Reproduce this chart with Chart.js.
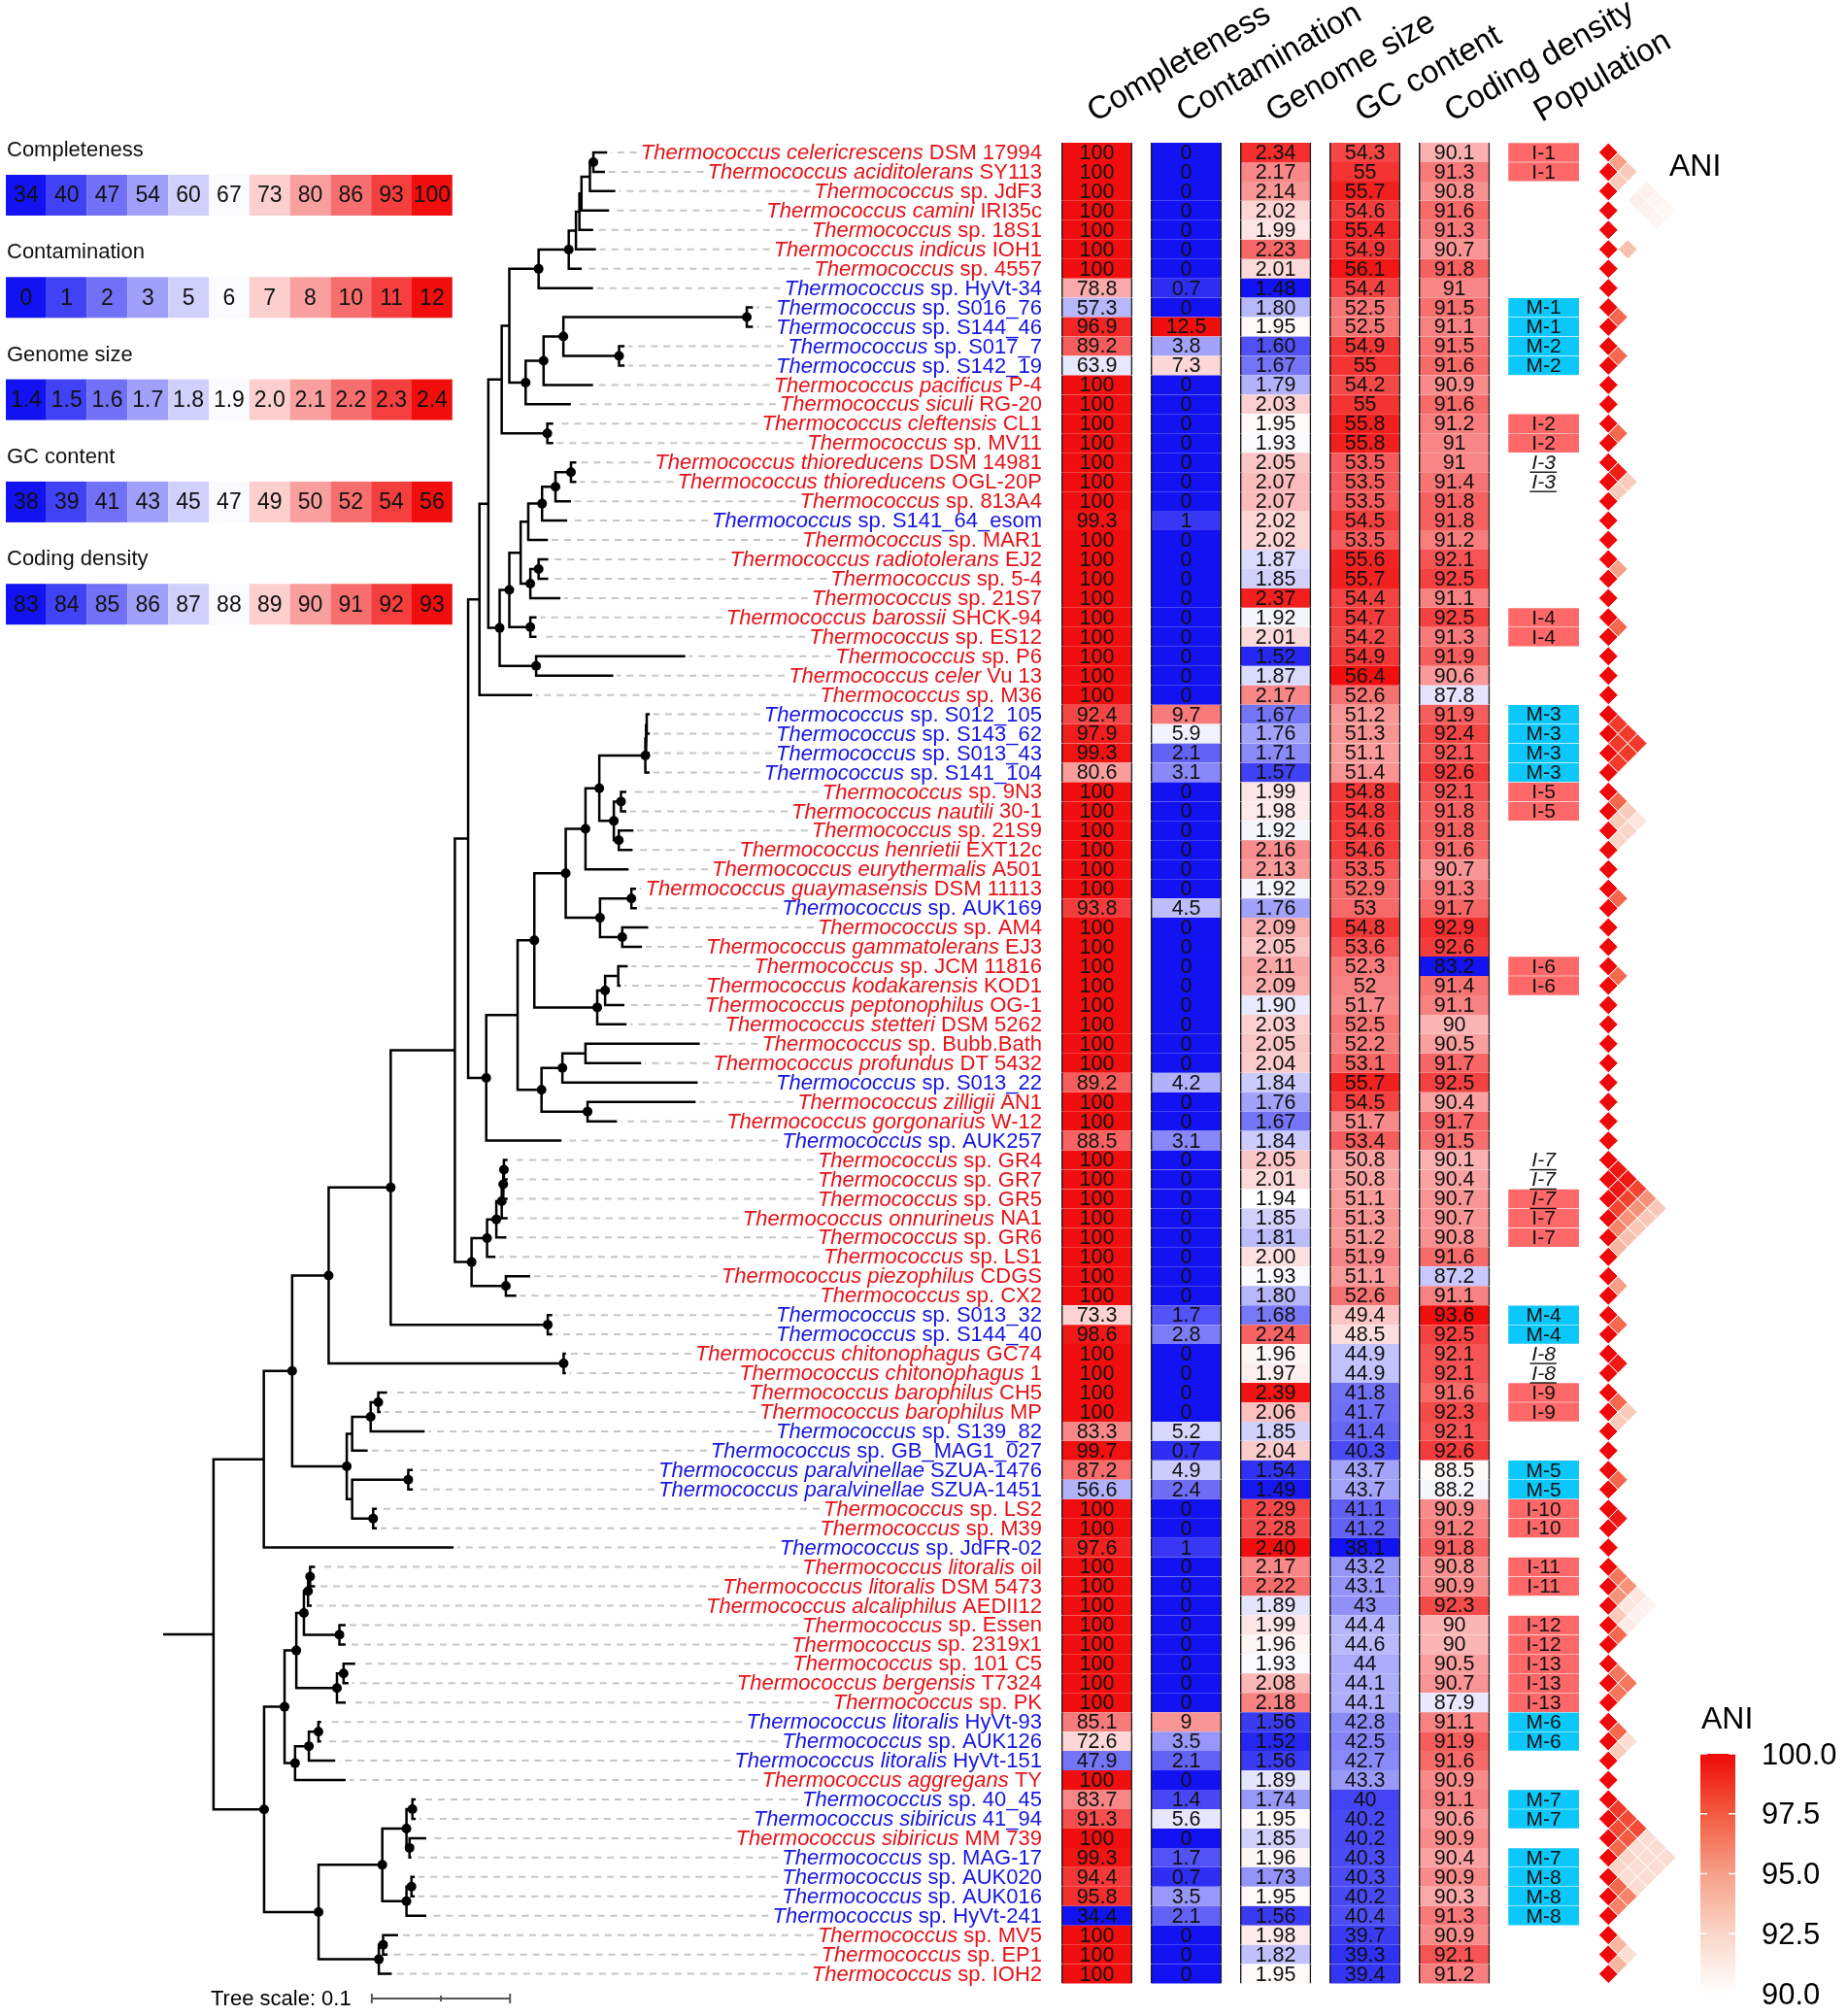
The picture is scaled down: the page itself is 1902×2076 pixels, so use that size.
<!DOCTYPE html>
<html>
<head>
<meta charset="utf-8">
<title>Thermococcus phylogeny with genome features</title>
<script src="https://cdn.jsdelivr.net/npm/chart.js@4.4.1/dist/chart.umd.min.js"></script>
<style>
  html, body { margin: 0; padding: 0; background: #fff; overflow: hidden; }
</style>
</head>
<body>
<canvas id="tree-heatmap" width="1902" height="2076"></canvas>
<script>
// ---- data ----
const taxa = [
  "Thermococcus celericrescens DSM 17994", "Thermococcus aciditolerans SY113", "Thermococcus sp. JdF3",
  "Thermococcus camini IRI35c", "Thermococcus sp. 18S1", "Thermococcus indicus IOH1", "Thermococcus sp. 4557",
  "Thermococcus sp. HyVt-34", "Thermococcus sp. S016_76", "Thermococcus sp. S144_46", "Thermococcus sp. S017_7",
  "Thermococcus sp. S142_19", "Thermococcus pacificus P-4", "Thermococcus siculi RG-20", "Thermococcus cleftensis CL1",
  "Thermococcus sp. MV11", "Thermococcus thioreducens DSM 14981", "Thermococcus thioreducens OGL-20P",
  "Thermococcus sp. 813A4", "Thermococcus sp. S141_64_esom", "Thermococcus sp. MAR1", "Thermococcus radiotolerans EJ2",
  "Thermococcus sp. 5-4", "Thermococcus sp. 21S7", "Thermococcus barossii SHCK-94", "Thermococcus sp. ES12",
  "Thermococcus sp. P6", "Thermococcus celer Vu 13", "Thermococcus sp. M36", "Thermococcus sp. S012_105",
  "Thermococcus sp. S143_62", "Thermococcus sp. S013_43", "Thermococcus sp. S141_104", "Thermococcus sp. 9N3",
  "Thermococcus nautili 30-1", "Thermococcus sp. 21S9", "Thermococcus henrietii EXT12c", "Thermococcus eurythermalis A501",
  "Thermococcus guaymasensis DSM 11113", "Thermococcus sp. AUK169", "Thermococcus sp. AM4", "Thermococcus gammatolerans EJ3",
  "Thermococcus sp. JCM 11816", "Thermococcus kodakarensis KOD1", "Thermococcus peptonophilus OG-1",
  "Thermococcus stetteri DSM 5262", "Thermococcus sp. Bubb.Bath", "Thermococcus profundus DT 5432",
  "Thermococcus sp. S013_22", "Thermococcus zilligii AN1", "Thermococcus gorgonarius W-12", "Thermococcus sp. AUK257",
  "Thermococcus sp. GR4", "Thermococcus sp. GR7", "Thermococcus sp. GR5", "Thermococcus onnurineus NA1",
  "Thermococcus sp. GR6", "Thermococcus sp. LS1", "Thermococcus piezophilus CDGS", "Thermococcus sp. CX2",
  "Thermococcus sp. S013_32", "Thermococcus sp. S144_40", "Thermococcus chitonophagus GC74", "Thermococcus chitonophagus 1",
  "Thermococcus barophilus CH5", "Thermococcus barophilus MP", "Thermococcus sp. S139_82", "Thermococcus sp. GB_MAG1_027",
  "Thermococcus paralvinellae SZUA-1476", "Thermococcus paralvinellae SZUA-1451", "Thermococcus sp. LS2",
  "Thermococcus sp. M39", "Thermococcus sp. JdFR-02", "Thermococcus litoralis oil", "Thermococcus litoralis DSM 5473",
  "Thermococcus alcaliphilus AEDII12", "Thermococcus sp. Essen", "Thermococcus sp. 2319x1", "Thermococcus sp. 101 C5",
  "Thermococcus bergensis T7324", "Thermococcus sp. PK", "Thermococcus litoralis HyVt-93", "Thermococcus sp. AUK126",
  "Thermococcus litoralis HyVt-151", "Thermococcus aggregans TY", "Thermococcus sp. 40_45", "Thermococcus sibiricus 41_94",
  "Thermococcus sibiricus MM 739", "Thermococcus sp. MAG-17", "Thermococcus sp. AUK020", "Thermococcus sp. AUK016",
  "Thermococcus sp. HyVt-241", "Thermococcus sp. MV5", "Thermococcus sp. EP1", "Thermococcus sp. IOH2"
];

// genomes recovered from metagenomes (blue labels)
const magRows = [7, 8, 9, 10, 11, 19, 29, 30, 31, 32, 39, 48, 51, 60, 61, 66, 67, 68, 69, 72, 81, 82, 83, 85, 86, 88, 89, 90, 91];

const completeness = [
  100, 100, 100, 100, 100, 100, 100, 78.8, 57.3, 96.9,
  89.2, 63.9, 100, 100, 100, 100, 100, 100, 100, 99.3,
  100, 100, 100, 100, 100, 100, 100, 100, 100, 92.4,
  97.9, 99.3, 80.6, 100, 100, 100, 100, 100, 100, 93.8,
  100, 100, 100, 100, 100, 100, 100, 100, 89.2, 100,
  100, 88.5, 100, 100, 100, 100, 100, 100, 100, 100,
  73.3, 98.6, 100, 100, 100, 100, 83.3, 99.7, 87.2, 56.6,
  100, 100, 97.6, 100, 100, 100, 100, 100, 100, 100,
  100, 85.1, 72.6, 47.9, 100, 83.7, 91.3, 100, 99.3, 94.4,
  95.8, 34.4, 100, 100, 100
];
const contamination = [
  0, 0, 0, 0, 0, 0, 0, 0.7, 0, 12.5,
  3.8, 7.3, 0, 0, 0, 0, 0, 0, 0, 1,
  0, 0, 0, 0, 0, 0, 0, 0, 0, 9.7,
  5.9, 2.1, 3.1, 0, 0, 0, 0, 0, 0, 4.5,
  0, 0, 0, 0, 0, 0, 0, 0, 4.2, 0,
  0, 3.1, 0, 0, 0, 0, 0, 0, 0, 0,
  1.7, 2.8, 0, 0, 0, 0, 5.2, 0.7, 4.9, 2.4,
  0, 0, 1, 0, 0, 0, 0, 0, 0, 0,
  0, 9, 3.5, 2.1, 0, 1.4, 5.6, 0, 1.7, 0.7,
  3.5, 2.1, 0, 0, 0
];
const genomeSize = [
  2.34, 2.17, 2.14, 2.02, 1.99, 2.23, 2.01, 1.48, 1.80, 1.95,
  1.60, 1.67, 1.79, 2.03, 1.95, 1.93, 2.05, 2.07, 2.07, 2.02,
  2.02, 1.87, 1.85, 2.37, 1.92, 2.01, 1.52, 1.87, 2.17, 1.67,
  1.76, 1.71, 1.57, 1.99, 1.98, 1.92, 2.16, 2.13, 1.92, 1.76,
  2.09, 2.05, 2.11, 2.09, 1.90, 2.03, 2.05, 2.04, 1.84, 1.76,
  1.67, 1.84, 2.05, 2.01, 1.94, 1.85, 1.81, 2.00, 1.93, 1.80,
  1.68, 2.24, 1.96, 1.97, 2.39, 2.06, 1.85, 2.04, 1.54, 1.49,
  2.29, 2.28, 2.40, 2.17, 2.22, 1.89, 1.99, 1.96, 1.93, 2.08,
  2.18, 1.56, 1.52, 1.56, 1.89, 1.74, 1.95, 1.85, 1.96, 1.73,
  1.95, 1.56, 1.98, 1.82, 1.95
];
const gcContent = [
  54.3, 55, 55.7, 54.6, 55.4, 54.9, 56.1, 54.4, 52.5, 52.5,
  54.9, 55, 54.2, 55, 55.8, 55.8, 53.5, 53.5, 53.5, 54.5,
  53.5, 55.6, 55.7, 54.4, 54.7, 54.2, 54.9, 56.4, 52.6, 51.2,
  51.3, 51.1, 51.4, 54.8, 54.8, 54.6, 54.6, 53.5, 52.9, 53,
  54.8, 53.6, 52.3, 52, 51.7, 52.5, 52.2, 53.1, 55.7, 54.5,
  51.7, 53.4, 50.8, 50.8, 51.1, 51.3, 51.2, 51.9, 51.1, 52.6,
  49.4, 48.5, 44.9, 44.9, 41.8, 41.7, 41.4, 40.3, 43.7, 43.7,
  41.1, 41.2, 38.1, 43.2, 43.1, 43, 44.4, 44.6, 44, 44.1,
  44.1, 42.8, 42.5, 42.7, 43.3, 40, 40.2, 40.2, 40.3, 40.3,
  40.2, 40.4, 39.7, 39.3, 39.4
];
const codingDensity = [
  90.1, 91.3, 90.8, 91.6, 91.3, 90.7, 91.8, 91, 91.5, 91.1,
  91.5, 91.6, 90.9, 91.6, 91.2, 91, 91, 91.4, 91.8, 91.8,
  91.2, 92.1, 92.5, 91.1, 92.5, 91.3, 91.9, 90.6, 87.8, 91.9,
  92.4, 92.1, 92.6, 92.1, 91.8, 91.8, 91.6, 90.7, 91.3, 91.7,
  92.9, 92.6, 83.2, 91.4, 91.1, 90, 90.5, 91.7, 92.5, 90.4,
  91.7, 91.5, 90.1, 90.4, 90.7, 90.7, 90.8, 91.6, 87.2, 91.1,
  93.6, 92.5, 92.1, 92.1, 91.6, 92.3, 92.1, 92.6, 88.5, 88.2,
  90.9, 91.2, 91.8, 90.8, 90.9, 92.3, 90, 90, 90.5, 90.7,
  87.9, 91.1, 91.9, 91.6, 90.9, 91.1, 90.6, 90.9, 90.4, 90.9,
  90.3, 91.3, 90.9, 92.1, 91.2
];
const columnNames = ["Completeness", "Contamination", "Genome size", "GC content", "Coding density", "Population"];

const population = [
  "I-1", "I-1", "", "", "", "", "", "",
  "M-1", "M-1", "M-2", "M-2", "", "", "I-2", "I-2",
  "I-3", "I-3", "", "", "", "", "", "",
  "I-4", "I-4", "", "", "", "M-3", "M-3", "M-3",
  "M-3", "I-5", "I-5", "", "", "", "", "",
  "", "", "I-6", "I-6", "", "", "", "",
  "", "", "", "", "I-7", "I-7", "I-7", "I-7",
  "I-7", "", "", "", "M-4", "M-4", "I-8", "I-8",
  "I-9", "I-9", "", "", "M-5", "M-5", "I-10", "I-10",
  "", "I-11", "I-11", "", "I-12", "I-12", "I-13", "I-13",
  "I-13", "M-6", "M-6", "", "", "M-7", "M-7", "",
  "M-7", "M-8", "M-8", "M-8", "", "", ""
];
const underlinedPopRows = [16, 17, 52, 53, 54, 62, 63];
const unboxedPopRows = [16, 17, 52, 53, 62, 63];

// pairwise ANI (%) between rows i and j, only pairs above 90 are shown
const aniPairs = [
  [0, 1, 95], [1, 2, 93], [0, 2, 93],
  [0, 4, 90.8], [0, 5, 90.7], [0, 6, 90.5], [1, 4, 91], [1, 5, 90.8], [1, 6, 90.6],
  [4, 6, 93.5], [8, 9, 97], [10, 11, 97], [14, 15, 97],
  [16, 17, 99.3], [17, 18, 93], [16, 18, 93], [21, 22, 95], [24, 25, 97],
  [29, 30, 98.5], [30, 31, 98.5], [31, 32, 98.5], [29, 31, 98.5], [30, 32, 98.5], [29, 32, 98.5],
  [33, 34, 97], [34, 35, 93], [33, 35, 93], [35, 36, 92.5], [34, 36, 92.5], [33, 36, 91.5],
  [38, 39, 97], [42, 43, 97],
  [52, 53, 99.6], [53, 54, 99.6], [52, 54, 99.6], [54, 55, 98.2], [53, 55, 98.2], [52, 55, 98.2],
  [55, 56, 96], [54, 56, 95.5], [53, 56, 95.5], [52, 56, 95.5],
  [56, 57, 94], [55, 57, 93.5], [54, 57, 93.2], [53, 57, 93.2], [52, 57, 93.2],
  [58, 59, 95], [60, 61, 97], [62, 63, 99.5],
  [64, 65, 97], [65, 66, 93], [64, 66, 93], [68, 69, 97], [70, 71, 99.5],
  [73, 74, 96.5], [74, 75, 95.5], [73, 75, 95.5], [75, 76, 93], [74, 76, 91.5], [73, 76, 91.5],
  [76, 77, 97], [75, 77, 91.2], [74, 77, 90.8], [73, 77, 90.8],
  [78, 79, 96.5], [79, 80, 96.5], [78, 80, 96.5],
  [81, 82, 97], [82, 83, 93], [81, 83, 92],
  [85, 86, 98.5], [86, 87, 98], [85, 87, 98], [87, 88, 97], [86, 88, 97.5], [85, 88, 98],
  [85, 89, 92], [85, 90, 92], [85, 91, 92], [86, 89, 92], [86, 90, 92], [86, 91, 92],
  [87, 89, 92.5], [87, 90, 92], [87, 91, 92], [88, 89, 92.5], [88, 90, 92], [88, 91, 92],
  [89, 90, 97], [90, 91, 96], [89, 91, 96],
  [92, 93, 94], [93, 94, 94], [92, 94, 92]
];
const aniTicks = [100, 97.5, 95, 92.5, 90];

// tree: [child, parent, branch length (substitutions/site)]; numbers are rows
const rootStem = 0.0355;
const treeEdges = [
  [0, "a1", 0.0091], [1, "a1", 0.0075], ["a1", "a2", 0.0025], [2, "a2", 0.0175],
  ["a2", "a3", 0.0061], [3, "a3", 0.0191], ["a3", "a4", 0.0015], [4, "a4", 0.0091],
  ["a4", "a5", 0.0025], [5, "a5", 0.0136], ["a5", "a6", 0.0052], [6, "a6", 0.0085],
  ["a6", "a7", 0.0218], [7, "a7", 0.0385], ["a7", "b1", 0.0212],
  [8, "c1", 0.0036], [9, "c1", 0.0036], [10, "c2", 0.0031], [11, "c2", 0.0031],
  ["c1", "c3", 0.1327], ["c2", "c3", 0.0403], ["c3", "c4", 0.0143], [12, "c4", 0.0349],
  ["c4", "c5", 0.0130], [13, "c5", 0.0318], ["c5", "b1", 0.0118], ["b1", "b2", 0.0055],
  [14, "d1", 0.0034], [15, "d1", 0.0034], ["d1", "b2", 0.0330], ["b2", "b3", 0.0097],
  [16, "e1", 0.0030], [17, "e1", 0.0030], ["e1", "e2", 0.0112], [18, "e2", 0.0103],
  ["e2", "e3", 0.0097], [19, "e3", 0.0173], ["e3", "e4", 0.0100], [20, "e4", 0.0134],
  [21, "f1", 0.0061], [22, "f1", 0.0061], ["f1", "f2", 0.0060], [23, "f2", 0.0209],
  ["e4", "e5", 0.0055], ["f2", "e5", 0.0070],
  [24, "g1", 0.0036], [25, "g1", 0.0036], ["e5", "e6", 0.0082], ["g1", "e6", 0.0152],
  [26, "h1", 0.1070], [27, "h1", 0.0549], ["e6", "e7", 0.0070], ["h1", "e7", 0.0264],
  ["e7", "b3", 0.0082], ["b3", "b4", 0.0064], [28, "b4", 0.0373], ["b4", "k1", 0.0082],
  [29, "m1", 0.0013], [30, "m1", 0.0013], ["m1", "m2", 0.0005], [31, "m2", 0.0017],
  ["m2", "m3", 0.0005], [32, "m3", 0.0022],
  [33, "p1", 0.0030], [34, "p1", 0.0030], [35, "p2", 0.0097], [36, "p2", 0.0091],
  ["p1", "p3", 0.0052], ["p2", "p3", 0.0036], ["m3", "m4", 0.0333], ["p3", "m4", 0.0105],
  ["m4", "m5", 0.0100], [37, "m5", 0.0303],
  [38, "q1", 0.0025], [39, "q1", 0.0031], [40, "q2", 0.0179], [41, "q2", 0.0134],
  ["q1", "q3", 0.0227], ["q2", "q3", 0.0161], ["m5", "m6", 0.0143], ["q3", "m6", 0.0248],
  [42, "r1", 0.0060], [43, "r1", 0.0009], ["r1", "r2", 0.0095], [44, "r2", 0.0131],
  ["r2", "r3", 0.0057], [45, "r3", 0.0203], ["m6", "m7", 0.0227], ["r3", "m7", 0.0455],
  [46, "s1", 0.0818], [47, "s1", 0.0394], ["s1", "s2", 0.0167], [48, "s2", 0.0970],
  [49, "s3", 0.0773], [50, "s3", 0.0204], ["s2", "s4", 0.0151], ["s3", "s4", 0.0333],
  ["m7", "m8", 0.0121], ["s4", "m8", 0.0173], ["m8", "m9", 0.0227], [51, "m9", 0.0536],
  ["m9", "k1", 0.0131],
  [52, "t1", 0.0018], [53, "t1", 0.0018], ["t1", "t2", 0.0005], [54, "t2", 0.0023],
  ["t2", "t3", 0.0011], [55, "t3", 0.0034], ["t3", "t4", 0.0039], [56, "t4", 0.0064],
  ["t4", "t5", 0.0067], [57, "t5", 0.0052], [58, "t6", 0.0167], [59, "t6", 0.0067],
  ["t5", "t7", 0.0112], ["t6", "t7", 0.0248],
  ["k1", "k2", 0.0096], ["t7", "k2", 0.0121],
  [60, "u1", 0.0024], [61, "u1", 0.0024], ["k2", "k3", 0.0464], ["u1", "k3", 0.1136],
  [62, "v1", 0.0008], [63, "v1", 0.0008], ["k3", "k4", 0.0449], ["v1", "k4", 0.1700],
  [64, "w1", 0.0055], [65, "w1", 0.0009], ["w1", "w2", 0.0055], [66, "w2", 0.0382],
  ["w2", "w3", 0.0134], [67, "w3", 0.0103], [68, "w4", 0.0024], [69, "w4", 0.0024],
  [70, "w5", 0.0018], [71, "w5", 0.0018], ["w4", "w6", 0.0406], ["w5", "w6", 0.0152],
  ["w3", "w7", 0.0039], ["w6", "w7", 0.0039], ["k4", "k5", 0.0264], ["w7", "k5", 0.0395],
  ["k5", "k6", 0.0205], [72, "k6", 0.1364], ["k6", "root", 0.0364],
  [73, "x1", 0.0027], [74, "x1", 0.0027], ["x1", "x2", 0.0015], [75, "x2", 0.0018],
  [76, "x3", 0.0036], [77, "x3", 0.0036], ["x2", "x4", 0.0030], ["x3", "x4", 0.0257],
  [78, "x5", 0.0076], [79, "x5", 0.0027], ["x5", "x6", 0.0048], [80, "x6", 0.0055],
  ["x4", "x7", 0.0055], ["x6", "x7", 0.0294],
  [81, "y1", 0.0011], [82, "y1", 0.0011], ["y1", "y2", 0.0069], [83, "y2", 0.0182],
  ["y2", "y3", 0.0100], [84, "y3", 0.0357], ["x7", "x8", 0.0085], ["y3", "x8", 0.0076],
  [85, "z1", 0.0015], [86, "z1", 0.0015], [87, "z2", 0.0112], [88, "z2", 0.0005],
  ["z1", "z3", 0.0043], ["z2", "z3", 0.0022], [89, "z4", 0.0015], [90, "z4", 0.0015],
  ["z4", "z5", 0.0036], [91, "z5", 0.0134], ["z3", "z6", 0.0175], ["z5", "z6", 0.0175],
  [92, "z7", 0.0100], [93, "z7", 0.0024], ["z7", "z8", 0.0031], [94, "z8", 0.0085],
  ["z6", "z9", 0.0461], ["z8", "z9", 0.0436], ["x8", "x9", 0.0148], ["z9", "x9", 0.0394],
  ["x9", "root", 0.0366]
];
// internal nodes drawn with a support dot
const supportedNodes = [
  "a1", "a6", "a7", "c1", "c2", "c3", "c4", "c5", "d1", "e1", "e2", "e3", "f1", "f2", "g1", "e6", "h1", "e7",
  "m3", "p1", "p2", "p3", "m4", "m5", "q1", "q2", "q3", "m6", "m7", "r2", "r3", "s2", "s3", "s4", "m9",
  "t1", "t2", "t3", "t4", "t5", "t6", "t7", "u1", "v1", "k3", "k4", "k5", "w1", "w2", "w4", "w5", "w7",
  "x1", "x2", "x3", "x4", "x5", "x6", "x7", "y1", "y2", "y3", "x8", "z1", "z2", "z3", "z4", "z5", "z6",
  "z7", "z8", "z9", "x9"
];
const treeScaleLength = 0.1;

// ---- layout ----
const W = 1902, H = 2076;
const ROW0_PX = 152.7, ROW_PX = 20.05;
const ROOT_PX = 165.2, TREE_PX_PER_UNIT = 1431;
const COL0_PX = 1130.5, COL_PITCH = 92.5, CELL_HALF = 0.395;
const ANI_PX = 1660;
const LABEL_RIGHT_PX = 1073;
const FONT = '"Liberation Sans", Arial, sans-serif';

Chart.defaults.font.family = FONT;

// ---- colours ----
const BLUE = [18, 18, 242], WHITE = [255, 255, 255], RED = [242, 14, 14];
function mix(a, b, t) {
  t = Math.max(0, Math.min(1, t));
  return a.map((c, i) => Math.round(c + (b[i] - c) * t));
}
function rgb(c) {
  return `rgb(${c[0]},${c[1]},${c[2]})`;
}
function divergingColor(f) {
  return f <= 0.5 ? rgb(mix(BLUE, WHITE, f / 0.5)) : rgb(mix(WHITE, RED, (f - 0.5) / 0.5));
}
const aniStops = [[90, [255, 255, 255]], [92.5, [250, 214, 200]], [95, [246, 160, 136]], [97.5, [243, 90, 64]], [100, [238, 10, 10]]];
function aniColor(v) {
  for (let i = 1; i < aniStops.length; i++) {
    if (v <= aniStops[i][0]) {
      const [v0, c0] = aniStops[i - 1];
      const [v1, c1] = aniStops[i];
      return rgb(mix(c0, c1, (v - v0) / (v1 - v0)));
    }
  }
  return rgb(aniStops[aniStops.length - 1][1]);
}

// ---- tree layout from the edge list ----
function buildTree() {
  const lengthOf = new Map();
  const kids = new Map();
  treeEdges.forEach(([child, parent, len]) => {
    lengthOf.set(child, len);
    if (!kids.has(parent)) kids.set(parent, []);
    kids.get(parent).push(child);
  });
  const depth = new Map();
  const rowPos = new Map();
  function place(node, d) {
    depth.set(node, d);
    const c = kids.get(node);
    if (!c) {
      rowPos.set(node, node);
      return node;
    }
    const ys = c.map((k) => place(k, d + lengthOf.get(k)));
    const y = (Math.min(...ys) + Math.max(...ys)) / 2;
    rowPos.set(node, y);
    return y;
  }
  place("root", rootStem);
  return { kids, depth, rowPos };
}
const tree = buildTree();

function treeSegments() {
  const pts = [];
  const gap = { x: null, y: null };
  const rootY = tree.rowPos.get("root");
  pts.push({ x: 0, y: rootY }, { x: tree.depth.get("root"), y: rootY }, gap);
  tree.kids.forEach((children, node) => {
    const sorted = children.slice().sort((a, b) => tree.rowPos.get(a) - tree.rowPos.get(b));
    const nx = tree.depth.get(node);
    const first = sorted[0];
    const last = sorted[sorted.length - 1];
    pts.push(
      { x: tree.depth.get(first), y: tree.rowPos.get(first) },
      { x: nx, y: tree.rowPos.get(first) },
      { x: nx, y: tree.rowPos.get(last) },
      { x: tree.depth.get(last), y: tree.rowPos.get(last) },
      gap
    );
    sorted.slice(1, -1).forEach((k) => {
      pts.push({ x: nx, y: tree.rowPos.get(k) }, { x: tree.depth.get(k), y: tree.rowPos.get(k) }, gap);
    });
  });
  return pts;
}

// ---- datasets ----
const heatColumns = [completeness, contamination, genomeSize, gcContent, codingDensity];
const heatRanges = heatColumns.map((vals) => [Math.min(...vals), Math.max(...vals)]);
const formatCell = (k, v) => (k === 2 ? v.toFixed(2) : String(v));

const heatDatasets = heatColumns.map((values, k) => ({
  type: "bar",
  label: columnNames[k],
  indexAxis: "y",
  xAxisID: "xh",
  yAxisID: "y",
  grouped: false,
  barPercentage: 1,
  categoryPercentage: 1,
  data: values.map((v, i) => ({ x: [k - CELL_HALF, k + CELL_HALF], y: i, v })),
  backgroundColor: (ctx) => {
    if (!ctx.raw) return "#fff";
    const [lo, hi] = heatRanges[k];
    return divergingColor((ctx.raw.v - lo) / (hi - lo));
  },
  borderColor: "#1c1c1c",
  borderWidth: { left: 1.5, right: 1.5, top: 0, bottom: 0 },
  borderSkipped: false,
  order: 3
}));

const popColumn = 5;
const populationDataset = {
  type: "bar",
  label: "Population",
  indexAxis: "y",
  xAxisID: "xh",
  yAxisID: "y",
  grouped: false,
  barPercentage: 1,
  categoryPercentage: 1,
  data: population
    .map((p, i) => ({ x: [popColumn - CELL_HALF, popColumn + CELL_HALF], y: i, p }))
    .filter((d) => d.p && !unboxedPopRows.includes(d.y)),
  backgroundColor: (ctx) => (ctx.raw && ctx.raw.p.startsWith("M") ? "rgb(12,200,250)" : "rgb(255,104,104)"),
  borderColor: "rgba(255,255,255,0.45)",
  borderWidth: { top: 0.6, bottom: 0.6, left: 0, right: 0 },
  borderSkipped: false,
  order: 3
};

const aniPoints = taxa.map((_, i) => ({ x: 0, y: i, v: 100 }))
  .concat(aniPairs.map(([i, j, v]) => ({ x: (j - i) / 2, y: (i + j) / 2, v })));
const aniDataset = {
  type: "scatter",
  label: "ANI",
  xAxisID: "xa",
  yAxisID: "y",
  data: aniPoints,
  pointStyle: "rectRot",
  pointRadius: (ctx) => {
    const s = ctx.chart.scales.y;
    return s ? Math.abs(s.getPixelForValue(0.5) - s.getPixelForValue(0)) : 10;
  },
  pointBackgroundColor: (ctx) => (ctx.raw ? aniColor(ctx.raw.v) : "#fff"),
  pointBorderColor: "#fff",
  pointBorderWidth: 1,
  showLine: false,
  order: 2
};

const branchDataset = {
  type: "scatter",
  label: "branches",
  xAxisID: "xt",
  yAxisID: "y",
  data: treeSegments(),
  showLine: true,
  spanGaps: false,
  borderColor: "#000",
  borderWidth: 2.5,
  borderCapStyle: "square",
  borderJoinStyle: "miter",
  pointRadius: 0,
  tension: 0,
  order: 1
};

const supportDataset = {
  type: "scatter",
  label: "support",
  xAxisID: "xt",
  yAxisID: "y",
  data: supportedNodes.map((n) => ({ x: tree.depth.get(n), y: tree.rowPos.get(n) })),
  pointRadius: 5,
  pointBackgroundColor: "#000",
  pointBorderColor: "#000",
  pointBorderWidth: 0,
  order: 0
};

const allDatasets = [supportDataset, branchDataset, aniDataset, ...heatDatasets, populationDataset];

// ---- text helpers ----
function labelParts(name) {
  const words = name.split(" ");
  const nItalic = words[1] === "sp." ? 1 : 2;
  return [words.slice(0, nItalic).join(" "), " " + words.slice(nItalic).join(" ")];
}
const LABEL_FONT_IT = `italic 22px ${FONT}`;
const LABEL_FONT = `22px ${FONT}`;
function labelStart(ctx, name) {
  const [it, up] = labelParts(name);
  ctx.font = LABEL_FONT_IT;
  const w1 = ctx.measureText(it).width;
  ctx.font = LABEL_FONT;
  const w2 = ctx.measureText(up).width;
  return LABEL_RIGHT_PX - w1 - w2;
}

const decorPlugin = {
  id: "decor",
  beforeDatasetsDraw(chart) {
    const { ctx } = chart;
    const { xt, y } = chart.scales;
    ctx.save();
    ctx.strokeStyle = "#c6c6c6";
    ctx.lineWidth = 2;
    ctx.setLineDash([7, 6]);
    taxa.forEach((name, i) => {
      const py = y.getPixelForValue(i);
      const start = labelStart(ctx, name) - 4;
      const tip = xt.getPixelForValue(tree.depth.get(i)) + 5;
      ctx.beginPath();
      ctx.moveTo(start, py);
      ctx.lineTo(tip, py);
      ctx.stroke();
    });
    ctx.restore();
  },
  afterDatasetsDraw(chart) {
    const { ctx } = chart;
    const { xt, xh, y } = chart.scales;
    ctx.save();

    // tip labels
    ctx.textBaseline = "middle";
    ctx.textAlign = "left";
    taxa.forEach((name, i) => {
      const [it, up] = labelParts(name);
      const py = y.getPixelForValue(i) + 1;
      let x = labelStart(ctx, name);
      ctx.fillStyle = magRows.includes(i) ? "rgb(22,22,226)" : "rgb(232,18,24)";
      ctx.font = LABEL_FONT_IT;
      ctx.fillText(it, x, py);
      x += ctx.measureText(it).width;
      ctx.font = LABEL_FONT;
      ctx.fillText(up, x, py);
    });

    // values inside the heatmap cells
    ctx.textAlign = "center";
    ctx.fillStyle = "#111";
    ctx.font = `21.5px ${FONT}`;
    heatDatasets.forEach((ds, k) => {
      const meta = chart.getDatasetMeta(allDatasets.indexOf(ds));
      meta.data.forEach((bar, i) => {
        const cell = ds.data[i];
        if (!cell) return;
        ctx.fillText(formatCell(k, cell.v), (bar.x + bar.base) / 2, bar.y + 1);
      });
    });

    // population labels
    population.forEach((p, i) => {
      if (!p) return;
      const cx = xh.getPixelForValue(popColumn);
      const py = y.getPixelForValue(i) + 1;
      const under = underlinedPopRows.includes(i);
      ctx.font = `${under ? "italic " : ""}21px ${FONT}`;
      ctx.fillStyle = "#111";
      ctx.fillText(p, cx, py);
      if (under) {
        const w = ctx.measureText(p).width;
        ctx.strokeStyle = "#111";
        ctx.lineWidth = 1.4;
        ctx.beginPath();
        ctx.moveTo(cx - w / 2 - 2, py + 9);
        ctx.lineTo(cx + w / 2 + 1, py + 9);
        ctx.stroke();
      }
    });

    // rotated column headers
    ctx.font = `33px ${FONT}`;
    ctx.fillStyle = "#000";
    ctx.textAlign = "left";
    ctx.textBaseline = "alphabetic";
    columnNames.forEach((name, k) => {
      ctx.save();
      ctx.translate(xh.getPixelForValue(k) - 2, 126);
      ctx.rotate(-Math.PI / 6);
      ctx.fillText(name, 0, 0);
      ctx.restore();
    });

    // ANI label beside the diamonds
    ctx.font = `32px ${FONT}`;
    ctx.fillText("ANI", 1719, 181);

    // colour keys for the five heatmap columns
    heatRanges.forEach(([lo, hi], g) => {
      const top = 180 + 105.3 * g;
      ctx.font = `22px ${FONT}`;
      ctx.fillStyle = "#111";
      ctx.textAlign = "left";
      ctx.textBaseline = "alphabetic";
      ctx.fillText(columnNames[g], 7, top - 19);
      const dec = g === 2 ? 1 : 0;
      const p = Math.pow(10, dec);
      for (let s = 0; s <= 10; s++) {
        const x = 6 + 41.8 * s;
        ctx.fillStyle = s === 5 ? "rgb(250,250,255)" : divergingColor(s / 10);
        ctx.fillRect(x, top, 41.8, 42);
        const label = (Math.floor((lo + (hi - lo) * s / 10) * p + 1e-6) / p).toFixed(dec);
        ctx.fillStyle = "#111";
        ctx.font = `23px ${FONT}`;
        ctx.textAlign = "center";
        ctx.textBaseline = "middle";
        ctx.fillText(label, x + 20.9, top + 22);
      }
    });

    // ANI colour bar
    const barL = 1751, barR = 1787, barT = 1806, barB = 2053;
    const grad = ctx.createLinearGradient(0, barT, 0, barB);
    aniStops.forEach(([v, c]) => grad.addColorStop((100 - v) / 10, rgb(c)));
    ctx.fillStyle = grad;
    ctx.fillRect(barL, barT, barR - barL, barB - barT);
    ctx.font = `32px ${FONT}`;
    ctx.fillStyle = "#000";
    ctx.textAlign = "left";
    ctx.textBaseline = "alphabetic";
    ctx.fillText("ANI", 1752, 1780);
    ctx.font = `31px ${FONT}`;
    ctx.textBaseline = "middle";
    ctx.strokeStyle = "#fff";
    ctx.lineWidth = 1.5;
    aniTicks.forEach((v) => {
      const ty = barT + (100 - v) / 10 * (barB - barT);
      ctx.fillText(v.toFixed(1), 1814, ty + 2);
      ctx.beginPath();
      ctx.moveTo(barL, ty); ctx.lineTo(barL + 7, ty);
      ctx.moveTo(barR - 7, ty); ctx.lineTo(barR, ty);
      ctx.stroke();
    });

    // tree scale
    const sx0 = xt.getPixelForValue(0.15);
    const sx1 = xt.getPixelForValue(0.15 + treeScaleLength);
    const sy = 2058;
    ctx.font = `22px ${FONT}`;
    ctx.fillStyle = "#000";
    ctx.textAlign = "left";
    ctx.textBaseline = "middle";
    ctx.fillText("Tree scale: " + treeScaleLength, 217, sy + 1);
    ctx.strokeStyle = "#555";
    ctx.lineWidth = 2;
    ctx.beginPath();
    ctx.moveTo(sx0, sy); ctx.lineTo(sx1, sy);
    ctx.moveTo(sx0, sy - 5); ctx.lineTo(sx0, sy + 5);
    ctx.moveTo(sx1, sy - 5); ctx.lineTo(sx1, sy + 5);
    ctx.moveTo((sx0 + sx1) / 2, sy - 3); ctx.lineTo((sx0 + sx1) / 2, sy + 3);
    ctx.stroke();

    ctx.restore();
  }
};

// ---- chart ----
const hidden = { display: false, offset: false, grid: { display: false }, ticks: { display: false } };
new Chart(document.getElementById("tree-heatmap"), {
  type: "scatter",
  data: { datasets: allDatasets },
  options: {
    responsive: false,
    animation: false,
    events: [],
    layout: { padding: 0 },
    plugins: { legend: { display: false }, tooltip: { enabled: false }, title: { display: false } },
    scales: {
      y: { ...hidden, type: "linear", axis: "y", reverse: true, min: -ROW0_PX / ROW_PX, max: (H - ROW0_PX) / ROW_PX },
      xt: { ...hidden, type: "linear", axis: "x", min: -ROOT_PX / TREE_PX_PER_UNIT, max: (W - ROOT_PX) / TREE_PX_PER_UNIT },
      xh: { ...hidden, type: "linear", axis: "x", min: -COL0_PX / COL_PITCH, max: (W - COL0_PX) / COL_PITCH },
      xa: { ...hidden, type: "linear", axis: "x", min: -ANI_PX / ROW_PX, max: (W - ANI_PX) / ROW_PX }
    }
  },
  plugins: [decorPlugin]
});
</script>
</body>
</html>
